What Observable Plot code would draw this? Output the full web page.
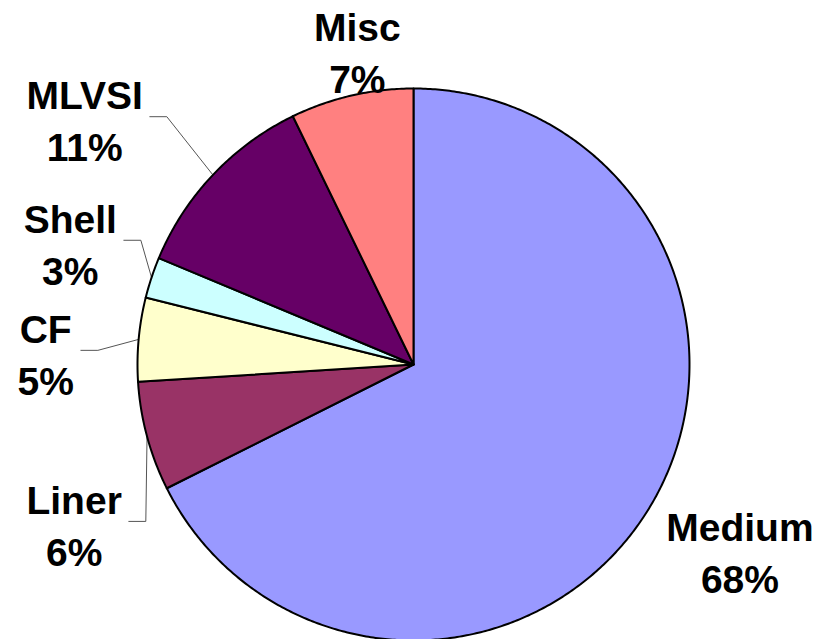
<!DOCTYPE html>
<html><head><meta charset="utf-8">
<script src="https://cdn.jsdelivr.net/npm/d3@7"></script>
<script src="https://cdn.jsdelivr.net/npm/@observablehq/plot@0.6"></script>
<style>html,body{margin:0;padding:0;background:#fff;overflow:hidden}</style>
</head><body><div id="chart"></div>
<script>
// ---- data ----
const categories = ["Medium", "Liner", "CF", "Shell", "MLVSI", "Misc"];
const values = [67.6, 6.4, 4.9, 2.4, 11.5, 7.2];
const percentLabels = ["68%", "6%", "5%", "3%", "11%", "7%"];
const colors = ["#9999FF", "#993366", "#FFFFCC", "#CCFFFF", "#660066", "#FF8080"];
const hasLeader = [false, true, true, true, true, false];

// ---- layout ----
const FONT_SIZE = 39;
const LINE_H = 52 / 39;
const FONT = '"Liberation Sans", Arial, sans-serif';
const labelRadius = 1.36;
const labelNudge = [[7, -11], [23, 61], [6, 22], [13, -4], [-56, 12], [28, 52]]; // pixels
const PX = 2 / 552; // data units per pixel

const rows = categories.map((c, i) => ({category: c, value: values[i], label: percentLabels[i]}));
const arcs = d3.pie().sort(null).value(d => d.value)(rows);

const polys = [];
arcs.forEach(a => {
  const category = a.data.category;
  const n = Math.max(2, Math.ceil((a.endAngle - a.startAngle) / (Math.PI / 360)));
  polys.push({category, x: 0, y: 0});
  for (let k = 0; k <= n; k++) {
    const t = a.startAngle + (a.endAngle - a.startAngle) * k / n;
    polys.push({category, x: Math.sin(t), y: Math.cos(t)});
  }
  polys.push({category, x: 0, y: 0});
});

const ctx = document.createElement("canvas").getContext("2d");
ctx.font = `bold ${FONT_SIZE}px ${FONT}`;

const labels = arcs.map((a, i) => {
  const m = (a.startAngle + a.endAngle) / 2;
  return {
    category: a.data.category,
    text: a.data.category + "\n" + a.data.label,
    lines: [a.data.category, a.data.label],
    mid: m,
    x: labelRadius * Math.sin(m) + labelNudge[i][0] * PX,
    y: labelRadius * Math.cos(m) - labelNudge[i][1] * PX
  };
});

const leaders = [];
labels.forEach((l, i) => {
  if (!hasLeader[i]) return;
  const w = Math.max(...l.lines.map(s => ctx.measureText(s).width));
  const sx = l.x + (w / 2 + 7) * PX;
  const sy = l.y + 2 * PX;
  leaders.push({category: l.category, x: sx, y: sy});
  leaders.push({category: l.category, x: sx + 17 * PX, y: sy});
  leaders.push({category: l.category, x: Math.sin(l.mid), y: Math.cos(l.mid)});
});

const chart = Plot.plot({
  width: 832,
  height: 639,
  x: {domain: [-1, 1], range: [137, 689], axis: null},
  y: {domain: [-1, 1], range: [640, 88], axis: null},
  color: {domain: categories, range: colors},
  style: {background: "white"},
  marks: [
    Plot.line(leaders, {x: "x", y: "y", z: "category", stroke: "#555", strokeWidth: 1}),
    Plot.line(polys, {x: "x", y: "y", z: "category", fill: "category", stroke: "black", strokeWidth: 2, strokeLinejoin: "round"}),
    Plot.text(labels, {
      x: "x", y: "y", text: "text",
      fontSize: FONT_SIZE, fontWeight: "bold", fontFamily: FONT,
      lineHeight: LINE_H, lineAnchor: "middle", textAnchor: "middle", fill: "black"
    })
  ]
});
document.getElementById("chart").appendChild(chart);
</script>
</body></html>
